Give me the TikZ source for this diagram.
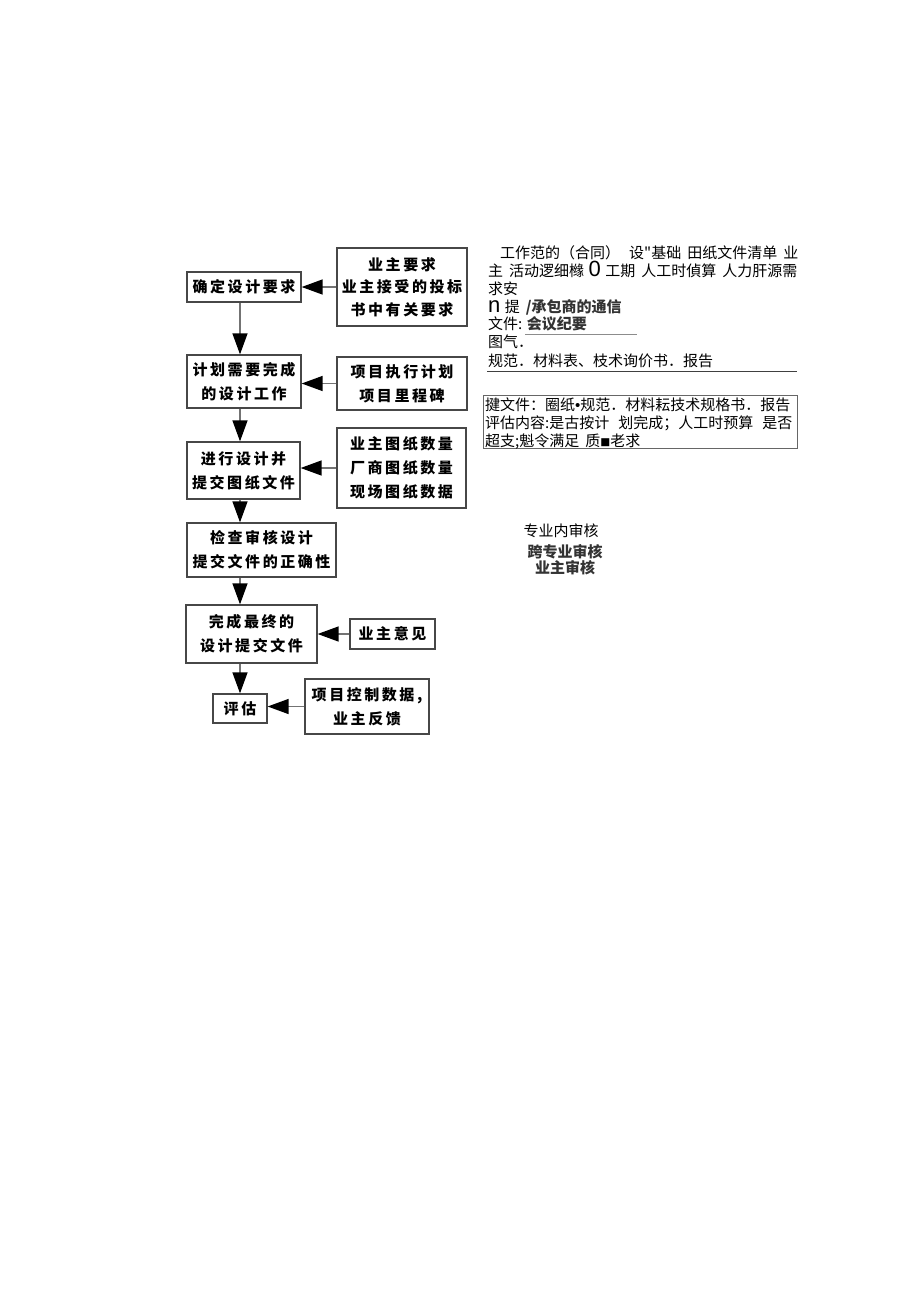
\documentclass[tikz,border=0pt]{standalone}
\usepackage{fontspec}
\usetikzlibrary{arrows.meta}
\newfontfamily\cjkb{Noto Sans CJK SC}[LetterSpace=17]
\newfontfamily\cjk{Noto Sans CJK SC}
\newfontfamily\latn{Liberation Sans}
\tikzset{
  lbox/.style={draw=black!72, line width=1.3pt, inner sep=0pt, align=center,
    font=\cjkb\bfseries\fontsize{15}{24}\selectfont},
  arr/.style={draw=black!55, line width=1.4pt, -{Triangle[length=21pt,width=15pt,color=black]}},
  rtxt/.style={anchor=base west, inner sep=0pt, font=\cjk\fontsize{15}{18}\selectfont},
  ctxt/.style={anchor=base, inner sep=0pt, font=\cjk\fontsize{15}{18}\selectfont},
}
\begin{document}
\begin{tikzpicture}[x=1pt,y=-1pt]
\useasboundingbox[fill=white] (0,0) rectangle (920,1301);
% left column
\node[lbox, minimum width=114pt, minimum height=30pt] (b1) at (244,287) {确定设计要求};
\node[lbox, minimum width=114pt, minimum height=53pt] (b2) at (244,381.5) {计划需要完成\\的设计工作};
\node[lbox, minimum width=113pt, minimum height=57pt] (b3) at (243.5,470.5) {进行设计并\\提交图纸文件};
\node[lbox, minimum width=149pt, minimum height=54pt] (b4) at (261.5,550) {检查审核设计\\提交文件的正确性};
\node[lbox, minimum width=131pt, minimum height=58pt] (b5) at (251.5,634) {完成最终的\\设计提交文件};
\node[lbox, minimum width=54pt, minimum height=29pt] (b6) at (240,708.5) {评估};
% inputs
\node[lbox, minimum width=130pt, minimum height=78pt, font=\cjkb\bfseries\fontsize{15}{22.5}\selectfont] (r1) at (402,287) {业主要求\\业主接受的投标\\书中有关要求};
\node[lbox, minimum width=130pt, minimum height=53pt] (r2) at (402,383.5) {项目执行计划\\项目里程碑};
\node[lbox, minimum width=129pt, minimum height=80pt] (r3) at (401.5,468) {业主图纸数量\\厂商图纸数量\\现场图纸数据};
\node[lbox, minimum width=85pt, minimum height=30pt] (r5) at (392.5,634) {业主意见};
\node[lbox, minimum width=124pt, minimum height=55pt] (r6) at (367,706.5) {项目控制数据,\\业主反馈};
% vertical arrows
\coordinate (vx) at (240,0);
\draw[arr] (b1.south -| vx) -- (b2.north -| vx);
\draw[arr] (b2.south -| vx) -- (b3.north -| vx);
\draw[arr] (b3.south -| vx) -- (b4.north -| vx);
\draw[arr] (b4.south -| vx) -- (b5.north -| vx);
\draw[arr] (b5.south -| vx) -- (b6.north -| vx);
% horizontal arrows
\draw[arr] (r1.west) -- (r1.west -| b1.east);
\draw[arr] (r2.west) -- (r2.west -| b2.east);
\draw[arr] (r3.west) -- (r3.west -| b3.east);
\draw[arr] (r5.west) -- (r5.west -| b5.east);
\draw[arr] (r6.west) -- (r6.west -| b6.east);
% right text block
\node[rtxt] (t1) at (500,258) {工作范的（合同）\hspace{0.6em}设"基础\hspace{0.4em}田纸文件清单\hspace{0.4em}业};
\node[rtxt] (t2) at (488,276) {主\hspace{0.4em}活动逻细橼\hspace{0.3em}{\latn\fontsize{22}{22}\selectfont 0}\hspace{0.3em}工期\hspace{0.4em}人工时偵算\hspace{0.4em}人力肝源需};
\node[rtxt] (t3) at (488,294) {求安};
\node[rtxt] (t4) at (488,312) {{\latn\fontsize{22}{22}\selectfont n}\hspace{0.3em}提\hspace{0.4em}{\color{black!80}\bfseries /承包商的通信}};
\node[rtxt] (t5) at (488,329) {文件:\hspace{0.3em}{\color{black!80}\bfseries 会议纪要}};
\node[rtxt] (t6) at (488,347) {图气．};
\node[rtxt] (t7) at (488,366) {规范．材料表、枝术询价书．报告};
\coordinate (u1a) at (525,334); \coordinate (u1b) at (637,334);
\draw[black!45, line width=1pt] (u1a) -- (u1b);
\coordinate (u2a) at (487,371); \coordinate (u2b) at (797,371);
\draw[black!75, line width=1pt] (u2a) -- (u2b);
% evaluation box
\node[draw=black!60, line width=0.8pt, minimum width=314pt, minimum height=53pt, inner sep=0pt] (ev) at (640,421.5) {};
\node[rtxt] (e1) at (485,410) {揵文件：圈纸{\latn •}规范．材料耘技术规格书．报告};
\node[rtxt] (e2) at (485,428) {评估内容:是古按计\hspace{0.6em}划完成；人工时预算\hspace{0.6em}是否};
\node[rtxt] (e3) at (485,446) {超支;魁令满足\hspace{0.4em}质{\fontsize{10}{10}\selectfont ■}老求};
% review list
\node[ctxt] (v1) at (561,536) {专业内审核};
\node[ctxt, font=\cjk\bfseries\fontsize{15}{18}\selectfont, text=black!80] (v2) at (565,557) {跨专业审核};
\node[ctxt, font=\cjk\bfseries\fontsize{15}{18}\selectfont, text=black!80] (v3) at (565,573) {业主审核};
\end{tikzpicture}
\end{document}
